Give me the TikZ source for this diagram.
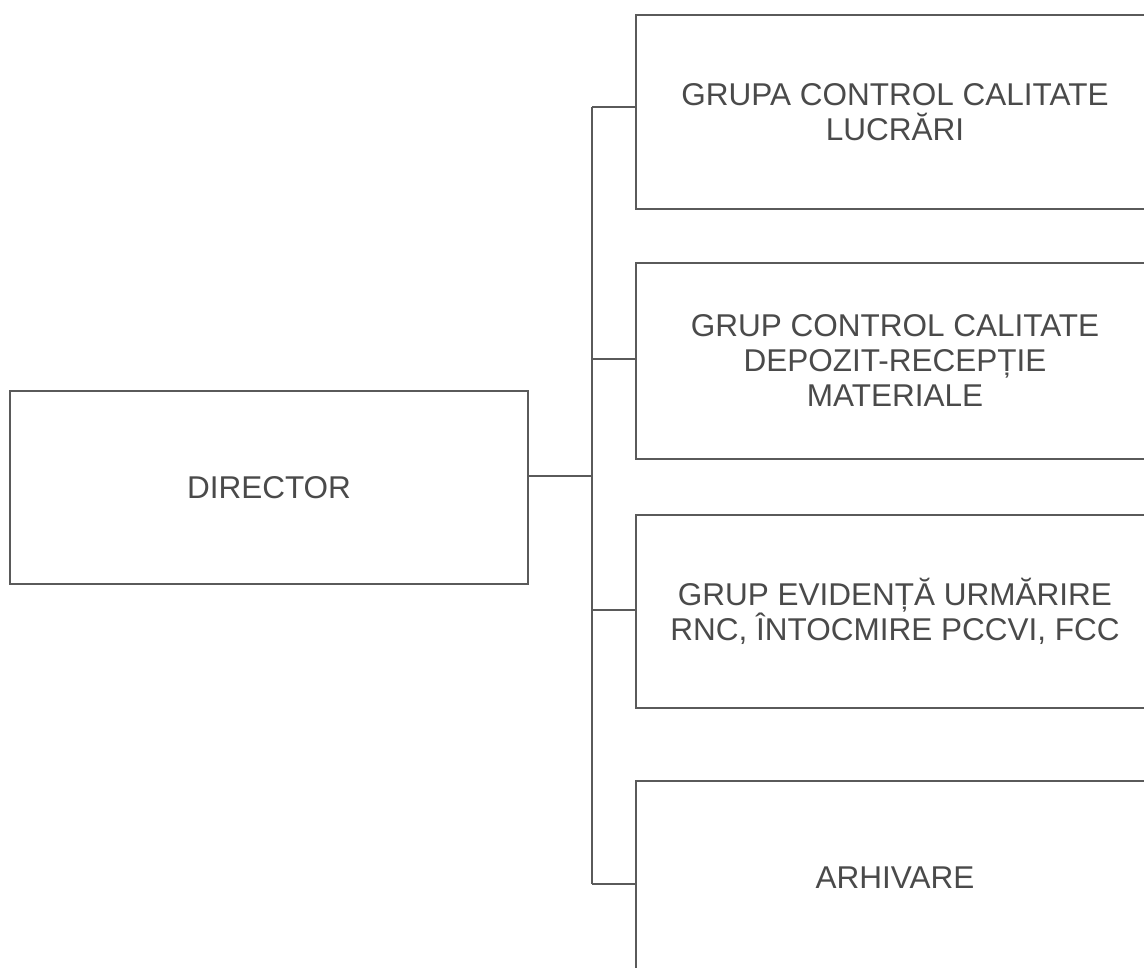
\documentclass[tikz,border=0pt]{standalone}
\usepackage{fontspec}
\setmainfont{Liberation Sans}
\definecolor{linegray}{HTML}{5A5A5A}
\definecolor{textgray}{HTML}{4A4A4A}
\begin{document}
\begin{tikzpicture}[x=1pt,y=1pt,
  orgbox/.style={draw=linegray, line width=1.5pt, rectangle, minimum width=518pt,
    align=center, text=textgray, inner sep=0pt,
    font=\fontsize{31.5}{35}\selectfont},
  link/.style={draw=linegray, line width=1.3pt}]
\useasboundingbox (0,0) rectangle (1144,968);
\clip (0,0) rectangle (1144,968);
\fill[white] (0,0) rectangle (1144,968);
\node[orgbox, minimum height=193pt] (dir) at (269,480.5) {DIRECTOR};
\node[orgbox, minimum height=194pt] (b1) at (895,856) {GRUPA CONTROL CALITATE\\LUCRĂRI};
\node[orgbox, minimum height=196pt] (b2) at (895,607) {GRUP CONTROL CALITATE\\DEPOZIT-RECEPȚIE\\MATERIALE};
\node[orgbox, minimum height=193pt] (b3) at (895,356.5) {GRUP EVIDENȚĂ URMĂRIRE\\RNC, ÎNTOCMIRE PCCVI, FCC};
\node[orgbox, minimum height=194pt] (b4) at (895,90) {ARHIVARE};
\coordinate (j0) at (592,492);
\coordinate (j1) at (592,861);
\coordinate (j4) at (592,84);
\draw[link] ([yshift=11.5pt]dir.east) -- (j0);
\draw[link] (j1) -- (j4);
\draw[link] (j1) -- ([yshift=5pt]b1.west);
\draw[link] (592,609) -- ([yshift=2pt]b2.west);
\draw[link] (592,358) -- ([yshift=1.5pt]b3.west);
\draw[link] (j4) -- ([yshift=-6pt]b4.west);
\end{tikzpicture}
\end{document}
